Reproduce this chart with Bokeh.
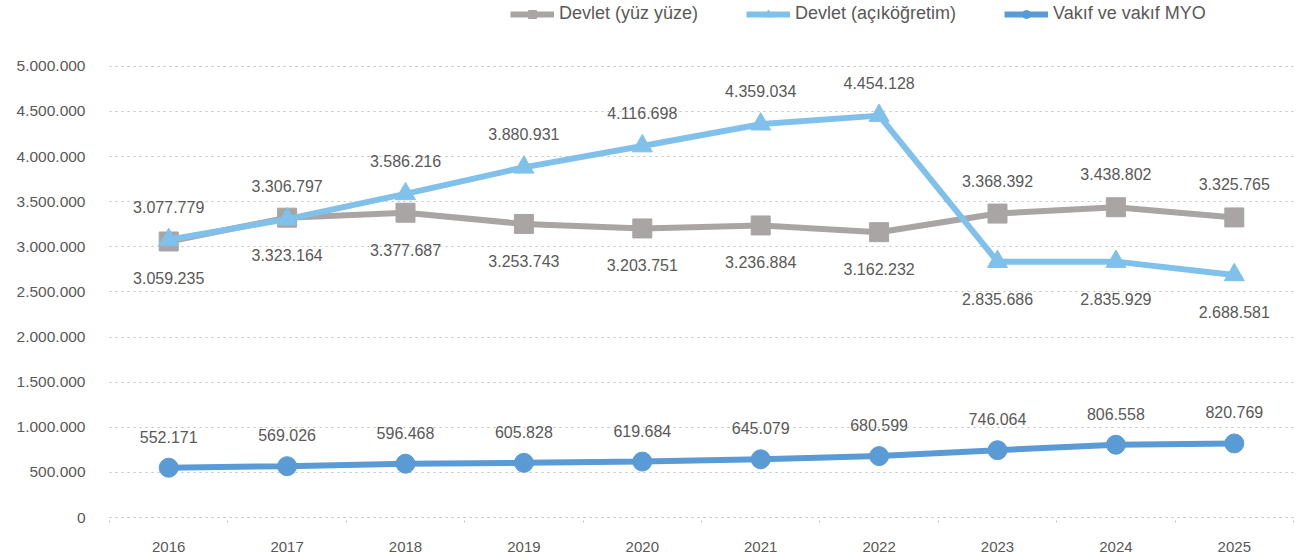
from bokeh.plotting import figure
from bokeh.models import (ColumnDataSource, FixedTicker, CustomJSTickFormatter, LabelSet,
                          Legend, LegendItem, Range1d)
from bokeh.core.properties import value
from bokeh.embed import file_html
from bokeh.resources import INLINE

years = [2016, 2017, 2018, 2019, 2020, 2021, 2022, 2023, 2024, 2025]
devlet_yuz = [3059235, 3323164, 3377687, 3253743, 3203751, 3236884, 3162232, 3368392, 3438802, 3325765]
devlet_acik = [3077779, 3306797, 3586216, 3880931, 4116698, 4359034, 4454128, 2835686, 2835929, 2688581]
vakif = [552171, 569026, 596468, 605828, 619684, 645079, 680599, 746064, 806558, 820769]
y_ticks = [0, 500000, 1000000, 1500000, 2000000, 2500000, 3000000, 3500000, 4000000, 4500000, 5000000]
series_names = ["Devlet (yüz yüze)", "Devlet (açıköğretim)", "Vakıf ve vakıf MYO"]

FONT = "Liberation Sans"
TXT = "#595959"
C_GRAY = "#A9A5A4"
C_LIGHT = "#7FC1EA"
C_BLUE = "#5B9BD5"

def fmt(v):
    return f"{v:,}".replace(",", ".")

p = figure(width=1296, height=554, output_backend="svg", toolbar_location=None,
           x_range=Range1d(2015.5, 2025.5), y_range=Range1d(0, 5000000 * 518 / 452),
           min_border_left=109, min_border_right=3, min_border_top=0, min_border_bottom=36)
p.outline_line_color = None
p.background_fill_color = None
p.border_fill_color = None

# axes
p.yaxis.ticker = FixedTicker(ticks=y_ticks)
p.yaxis.formatter = CustomJSTickFormatter(code="return tick.toString().replace(/\\B(?=(\\d{3})+(?!\\d))/g, '.');")
p.yaxis.axis_line_color = None
p.yaxis.major_tick_line_color = None
p.yaxis.minor_tick_line_color = None
p.yaxis.major_tick_out = 0
p.yaxis.major_label_standoff = 24
p.yaxis.major_label_text_font = FONT
p.yaxis.major_label_text_font_size = "15.5px"
p.yaxis.major_label_text_color = TXT

bounds = [y - 0.5 for y in years] + [years[-1] + 0.5]
p.xaxis.ticker = FixedTicker(ticks=years, minor_ticks=bounds)
p.xaxis.major_tick_line_color = None
p.xaxis.major_tick_out = 0
p.xaxis.major_tick_in = 0
p.xaxis.minor_tick_out = 5
p.xaxis.minor_tick_in = 0
p.xaxis.minor_tick_line_color = "#BFBFBF"
p.xaxis.minor_tick_line_dash = "dotted"
p.xaxis.axis_line_color = "#BFBFBF"
p.xaxis.axis_line_dash = "dotted"
p.xaxis.major_label_standoff = 19
p.xaxis.major_label_text_font = FONT
p.xaxis.major_label_text_font_size = "15px"
p.xaxis.major_label_text_color = TXT

p.xgrid.grid_line_color = None
p.ygrid.ticker = FixedTicker(ticks=y_ticks[1:])
p.ygrid.grid_line_color = "#BFBFBF"
p.ygrid.grid_line_dash = "dotted"
p.ygrid.grid_line_width = 1

src = ColumnDataSource(dict(
    x=years, g=devlet_yuz, a=devlet_acik, v=vakif,
    gl=[fmt(v) for v in devlet_yuz], al=[fmt(v) for v in devlet_acik], vl=[fmt(v) for v in vakif],
))

LW = 6
r_v_line = p.line("x", "v", source=src, line_color=C_BLUE, line_width=LW)
r_v_mark = p.scatter("x", "v", source=src, marker="circle", size=19, fill_color=C_BLUE, line_color=C_BLUE)
r_g_line = p.line("x", "g", source=src, line_color=C_GRAY, line_width=LW)
r_g_mark = p.scatter("x", "g", source=src, marker="square", size=19, fill_color=C_GRAY, line_color=C_GRAY)
r_a_line = p.line("x", "a", source=src, line_color=C_LIGHT, line_width=LW)
r_a_mark = p.scatter("x", "a", source=src, marker="triangle", size=20, fill_color=C_LIGHT, line_color=C_LIGHT)

# labels: before the 2023 crossover the gray series is below, the light-blue above
n_before = 7
def subsrc(cols, idx):
    d = src.data
    return ColumnDataSource({k: [d[k][i] for i in idx] for k in cols})

first = list(range(n_before))
last = list(range(n_before, len(years)))
lab_kw = dict(text_font=value(FONT), text_font_size="16px", text_color=TXT, text_align="center",
              text_baseline="middle")
p.add_layout(LabelSet(x="x", y="g", text="gl", source=subsrc(["x", "g", "gl"], first), y_offset=-37, **lab_kw))
p.add_layout(LabelSet(x="x", y="g", text="gl", source=subsrc(["x", "g", "gl"], last), y_offset=33, **lab_kw))
p.add_layout(LabelSet(x="x", y="a", text="al", source=subsrc(["x", "a", "al"], first), y_offset=33, **lab_kw))
p.add_layout(LabelSet(x="x", y="a", text="al", source=subsrc(["x", "a", "al"], last), y_offset=-37, **lab_kw))
p.add_layout(LabelSet(x="x", y="v", text="vl", source=src, y_offset=31, **lab_kw))

legend = Legend(items=[
    LegendItem(label=series_names[0], renderers=[r_g_line, r_g_mark]),
    LegendItem(label=series_names[1], renderers=[r_a_line, r_a_mark]),
    LegendItem(label=series_names[2], renderers=[r_v_line, r_v_mark]),
], orientation="horizontal", location=(401, 493), padding=0, margin=0, spacing=48,
   glyph_width=44, glyph_height=20, label_standoff=5,
   label_text_font=FONT, label_text_font_size="18px", label_text_color=TXT,
   background_fill_alpha=0, border_line_color=None)
p.add_layout(legend)

open("out.html", "w").write(file_html(p, INLINE))
